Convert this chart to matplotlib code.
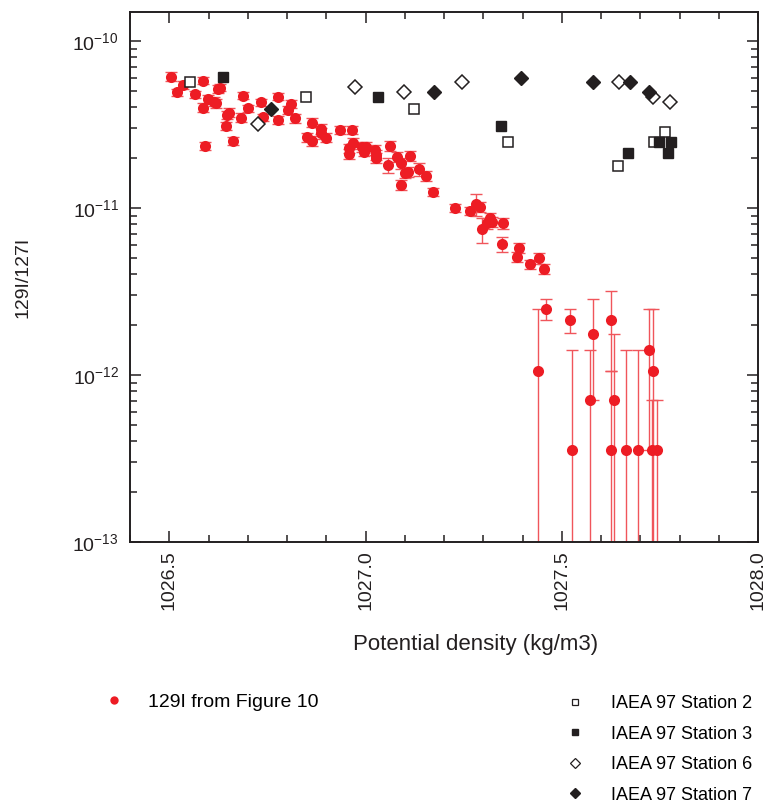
import matplotlib
matplotlib.use("Agg")
import matplotlib.pyplot as plt
from matplotlib.lines import Line2D
from matplotlib.ticker import MultipleLocator, LogLocator, NullFormatter
import numpy as np

plt.rcParams['font.family'] = ['Liberation Sans', 'DejaVu Sans']
plt.rcParams['mathtext.fontset'] = 'custom'
plt.rcParams['mathtext.rm'] = 'Liberation Sans'
plt.rcParams['mathtext.it'] = 'Liberation Sans'
plt.rcParams['mathtext.bf'] = 'Liberation Sans'

# ---- 129I from Figure 10 (well-measured points, relative error) ----
red_x = [1026.505, 1026.534, 1026.520, 1026.586, 1026.565, 1026.630, 1026.624, 1026.598,
         1026.613, 1026.620, 1026.587, 1026.688, 1026.653, 1026.647, 1026.701, 1026.683,
         1026.645, 1026.662, 1026.592, 1026.735, 1026.778, 1026.739, 1026.778, 1026.809,
         1026.802, 1026.820, 1026.864, 1026.886, 1026.886, 1026.934, 1026.965, 1026.851,
         1026.863, 1026.900, 1026.969, 1026.957, 1026.957, 1026.991, 1027.002, 1026.995,
         1027.025, 1027.027, 1027.027, 1027.063, 1027.058, 1027.080, 1027.090, 1027.114,
         1027.101, 1027.108, 1027.090, 1027.137, 1027.154, 1027.173, 1027.227, 1027.265,
         1027.281, 1027.292, 1027.317, 1027.322, 1027.309, 1027.296, 1027.351, 1027.347,
         1027.392, 1027.387, 1027.418, 1027.443, 1027.454]
red_y = [6.11e-11, 5.45e-11, 4.93e-11, 5.78e-11, 4.80e-11, 5.25e-11, 5.16e-11, 4.48e-11,
         4.33e-11, 4.24e-11, 3.99e-11, 4.70e-11, 3.72e-11, 3.61e-11, 3.94e-11, 3.47e-11,
         3.10e-11, 2.52e-11, 2.35e-11, 4.30e-11, 4.64e-11, 3.49e-11, 3.37e-11, 4.20e-11,
         3.86e-11, 3.44e-11, 3.24e-11, 2.96e-11, 2.80e-11, 2.93e-11, 2.93e-11, 2.65e-11,
         2.53e-11, 2.64e-11, 2.44e-11, 2.28e-11, 2.10e-11, 2.33e-11, 2.33e-11, 2.17e-11,
         2.22e-11, 2.08e-11, 1.99e-11, 2.35e-11, 1.81e-11, 2.03e-11, 1.85e-11, 2.05e-11,
         1.63e-11, 1.65e-11, 1.37e-11, 1.71e-11, 1.56e-11, 1.25e-11, 1.00e-11, 9.6e-12,
         1.06e-11, 1.01e-11, 8.67e-12, 8.28e-12, 8.1e-12, 7.45e-12, 8.1e-12, 6.07e-12,
         5.78e-12, 5.07e-12, 4.61e-12, 5.0e-12, 4.31e-12]
red_err = [0.06, 0.05, 0.05, 0.05, 0.05, 0.05, 0.05, 0.06, 0.06, 0.06, 0.06, 0.05, 0.06,
           0.06, 0.05, 0.06, 0.05, 0.05, 0.05, 0.05, 0.05, 0.05, 0.06, 0.06, 0.06, 0.06,
           0.06, 0.07, 0.07, 0.06, 0.06, 0.06, 0.07, 0.06, 0.07, 0.06, 0.07, 0.07, 0.06,
           0.06, 0.07, 0.07, 0.07, 0.07, 0.10, 0.07, 0.07, 0.07, 0.07, 0.07, 0.07, 0.09,
           0.07, 0.06, 0.05, 0.06, 0.15, 0.07, 0.07, 0.07, 0.08, 0.17, 0.08, 0.10, 0.07,
           0.07, 0.06, 0.08, 0.07]

# ---- 129I from Figure 10 (low-count points, explicit bounds) ----
low_x  = [1027.459, 1027.439, 1027.520, 1027.527, 1027.572, 1027.580, 1027.626, 1027.633,
          1027.626, 1027.664, 1027.693, 1027.722, 1027.732, 1027.730, 1027.742]
low_y  = [2.48e-12, 1.06e-12, 2.12e-12, 3.54e-13, 7.08e-13, 1.77e-12, 2.12e-12, 7.08e-13,
          3.54e-13, 3.54e-13, 3.54e-13, 1.41e-12, 1.06e-12, 3.54e-13, 3.54e-13]
low_lo = [2.13e-12, 1e-14, 1.78e-12, 1e-14, 1e-14, 7.08e-13, 1.06e-12, 1e-14,
          1e-14, 1e-14, 1e-14, 3.54e-13, 1e-14, 1e-14, 1e-14]
low_hi = [2.84e-12, 2.47e-12, 2.47e-12, 1.41e-12, 1.41e-12, 2.84e-12, 3.18e-12, 1.77e-12,
          1.06e-12, 1.41e-12, 1.41e-12, 2.48e-12, 2.48e-12, 7.08e-13, 7.08e-13]

# ---- IAEA 97 stations ----
st2_x = [1026.552, 1026.849, 1027.123, 1027.363, 1027.643, 1027.734, 1027.762]
st2_y = [5.66e-11, 4.60e-11, 3.90e-11, 2.48e-11, 1.78e-11, 2.48e-11, 2.85e-11]
st3_x = [1026.637, 1027.033, 1027.346, 1027.670, 1027.749, 1027.778, 1027.770]
st3_y = [6.07e-11, 4.60e-11, 3.10e-11, 2.13e-11, 2.48e-11, 2.48e-11, 2.13e-11]
st6_x = [1026.725, 1026.974, 1027.099, 1027.247, 1027.646, 1027.732, 1027.776]
st6_y = [3.18e-11, 5.32e-11, 4.96e-11, 5.66e-11, 5.66e-11, 4.60e-11, 4.28e-11]
st7_x = [1026.758, 1027.174, 1027.396, 1027.580, 1027.674, 1027.723]
st7_y = [3.90e-11, 4.96e-11, 6.03e-11, 5.66e-11, 5.66e-11, 4.96e-11]

RED = '#ED1C24'
ERR = '#F0555B'
BLK = '#231F20'

fig = plt.figure(figsize=(7.64, 8.02), dpi=100)
ax = fig.add_axes([130/764, 1 - 542/802, (758-130)/764, (542-12)/802])

ry = np.array(red_y); re = np.array(red_err)
ax.errorbar(red_x, ry, yerr=[ry*re, ry*re], fmt='none', ecolor=ERR,
            elinewidth=1.0, capsize=4.5, capthick=1.0, zorder=2)
ly = np.array(low_y)
ax.errorbar(low_x, ly, yerr=[ly - np.array(low_lo), np.array(low_hi) - ly], fmt='none',
            ecolor=ERR, elinewidth=1.0, capsize=4.5, capthick=1.0, zorder=2)
ax.plot(red_x, red_y, 'o', color=RED, ms=8, mec='none', zorder=3)
ax.plot(low_x, low_y, 'o', color=RED, ms=8, mec='none', zorder=3)

ax.plot(st2_x, st2_y, 's', mfc='white', mec=BLK, mew=1.1, ms=7, zorder=4)
ax.plot(st3_x, st3_y, 's', mfc=BLK, mec=BLK, mew=1.0, ms=7, zorder=4)
ax.plot(st6_x, st6_y, 'D', mfc='white', mec=BLK, mew=1.1, ms=7, zorder=4)
ax.plot(st7_x, st7_y, 'D', mfc=BLK, mec=BLK, mew=1.0, ms=7, zorder=4)

ax.set_yscale('log')
ax.set_xlim(1026.4, 1028.0)
ax.set_ylim(1e-13, 1.49e-10)
ax.xaxis.set_major_locator(MultipleLocator(0.5))
ax.xaxis.set_minor_locator(MultipleLocator(0.1))
ax.yaxis.set_major_locator(LogLocator(base=10, numticks=10))
ax.yaxis.set_minor_locator(LogLocator(base=10, subs=np.arange(2, 10), numticks=20))
ax.yaxis.set_minor_formatter(NullFormatter())
ax.set_xticks([1026.5, 1027.0, 1027.5, 1028.0])
ax.set_xticklabels(['1026.5', '1027.0', '1027.5', '1028.0'], rotation=90)

ax.tick_params(which='both', direction='in', top=True, right=True, colors=BLK,
               labelsize=14, width=1.1)
ax.tick_params(which='major', length=8, pad=8)
ax.tick_params(axis='x', which='major', pad=6)
ax.tick_params(which='minor', length=5)
for s in ax.spines.values():
    s.set_linewidth(1.4)
    s.set_color(BLK)

ax.set_xlabel('Potential density (kg/m3)', fontsize=16, color=BLK)
ax.xaxis.set_label_coords((476 - 130) / 628, -(634 - 542) / 530)
ax.set_ylabel('129I/127I', fontsize=14, color=BLK)
ax.yaxis.set_label_coords(-(130 - 32) / 628, (542 - 277) / 530)

h_red = Line2D([], [], ls='none', marker='o', color=RED, ms=6, mec='none')
h2 = Line2D([], [], ls='none', marker='s', mfc='white', mec=BLK, mew=0.9, ms=5)
h3 = Line2D([], [], ls='none', marker='s', mfc=BLK, mec=BLK, ms=5)
h6 = Line2D([], [], ls='none', marker='D', mfc='white', mec=BLK, mew=0.9, ms=5)
h7 = Line2D([], [], ls='none', marker='D', mfc=BLK, mec=BLK, ms=5)

fig.legend(handles=[h_red], labels=['129I from Figure 10'], loc='upper left',
           bbox_to_anchor=(95/764, 1 - 693/802), frameon=False, fontsize=14,
           handletextpad=0.75, borderaxespad=0, borderpad=0)
fig.legend(handles=[h2, h3, h6, h7],
           labels=['IAEA 97 Station 2', 'IAEA 97 Station 3', 'IAEA 97 Station 6', 'IAEA 97 Station 7'],
           loc='upper left', bbox_to_anchor=(557/764, 1 - 695/802), frameon=False, fontsize=13,
           handletextpad=1.0, labelspacing=0.75, borderaxespad=0, borderpad=0)

fig.savefig('out.png', dpi=100)
